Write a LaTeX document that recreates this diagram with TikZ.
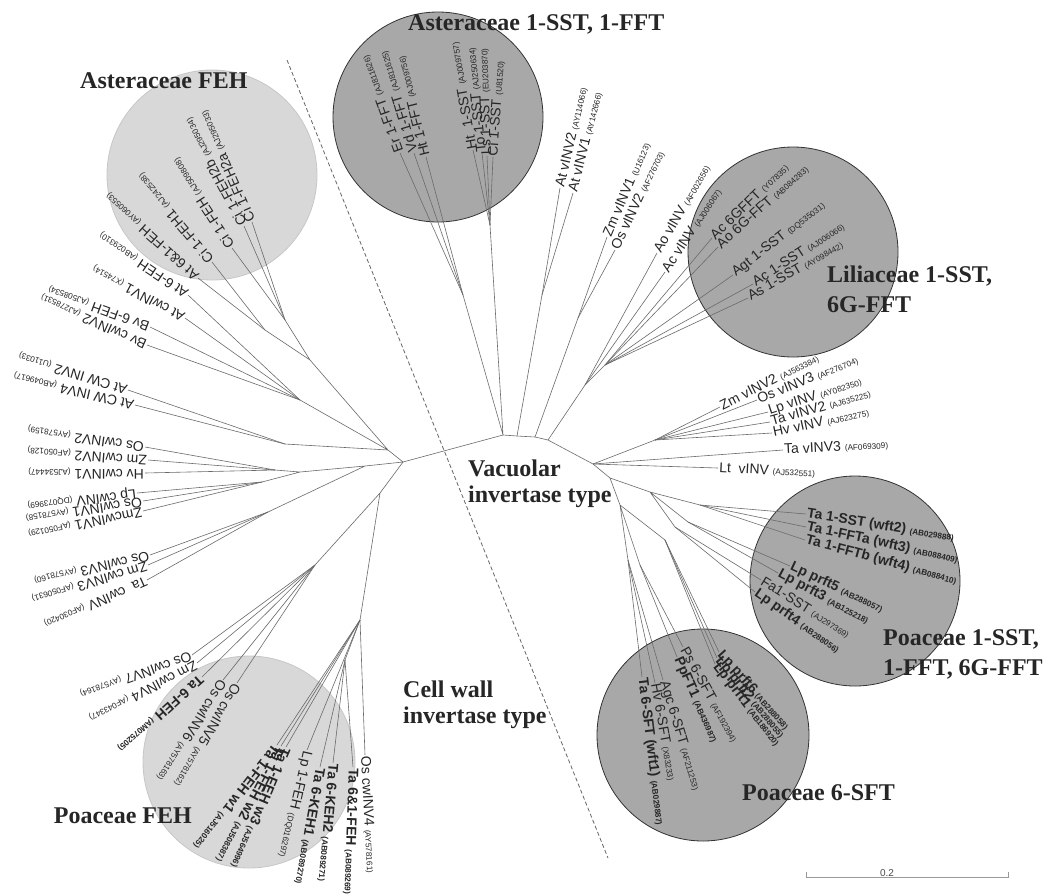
\documentclass[tikz,border=0pt]{standalone}
\usepackage{fontspec}
\setmainfont{Liberation Serif}
\setsansfont{Liberation Sans}
\usetikzlibrary{positioning}
\definecolor{cladedark}{HTML}{A8A8A8}
\definecolor{cladelight}{HTML}{D8D8D8}
\definecolor{branchgray}{HTML}{6A6A6A}
\newcommand{\acc}[1]{{\fontsize{8.2}{9}\selectfont #1}}
\tikzset{
  branch/.style={draw=branchgray, line width=0.6pt},
  leaf/.style={anchor=west, inner sep=1pt, text=black!85, font=\sffamily\fontsize{14}{14}\selectfont},
  darkclade/.style={fill=cladedark, draw=black!80, line width=0.8pt},
  lightclade/.style={fill=cladelight, draw=black!22, line width=0.8pt},
  cladename/.style={inner sep=0pt, text=black!85, font=\bfseries\fontsize{24}{30}\selectfont, align=left},
  typename/.style={cladename, font=\bfseries\fontsize{24}{26}\selectfont},
  divider/.style={draw=black!60, dash pattern=on 4pt off 2.5pt, line width=0.8pt},
  scalebar/.style={draw=black!40, line width=0.6pt}
}

\begin{document}
\begin{tikzpicture}[x=1pt, y=-1pt]
\useasboundingbox (0,0) rectangle (1056,895);
\fill[white] (0,0) rectangle (1056,895);

% clade circles
\draw[darkclade] (438,117) circle[radius=105];
\draw[darkclade] (793,252) circle[radius=105];
\draw[darkclade] (855,581) circle[radius=105];
\draw[darkclade] (703,735) circle[radius=106];
\draw[lightclade] (212,175) circle[radius=105];
\draw[lightclade] (249,762) circle[radius=106];

% divider between the two invertase types
\coordinate (divtop) at (287,60);
\coordinate (divbot) at (608,858);
\draw[divider] (divtop) -- (divbot);

% inner nodes, vacuolar side
\coordinate (cw) at (403,462);
\coordinate (v1) at (503,435);
\coordinate (v2) at (517,436);
\coordinate (v3) at (535,437);
\coordinate (v4) at (548,440);
\coordinate (v5) at (593,464);
\coordinate (v6) at (610,478);
\coordinate (v7) at (620,505);
\coordinate (aff) at (463,295);
\coordinate (ass) at (490,225);
\coordinate (atv) at (542,295);
\coordinate (zov) at (578,318);
\coordinate (acv) at (585,385);
\coordinate (lil) at (605,365);
\coordinate (vzm) at (655,440);
\coordinate (pfo) at (650,492);
\coordinate (pta) at (700,505);
\coordinate (plp) at (688,522);
\coordinate (pfa) at (675,527);
\coordinate (s6a) at (628,560);
\coordinate (s6p) at (640,565);
\coordinate (s6l) at (665,540);

% inner nodes, cell wall side
\coordinate (ul) at (388,450);
\coordinate (lh) at (365,466);
\coordinate (bh) at (380,493);
\coordinate (fe) at (310,360);
\coordinate (fn) at (285,320);
\coordinate (fn2) at (265,330);
\coordinate (ab) at (300,400);
\coordinate (atc) at (285,444);
\coordinate (lm) at (300,472);
\coordinate (lw) at (275,470);
\coordinate (lc) at (262,482);
\coordinate (l3) at (268,512);
\coordinate (bl) at (315,565);
\coordinate (b3) at (360,620);
\coordinate (b4) at (345,660);

\draw[branch] (cw) -- (v1) -- (v2) -- (v3) -- (v4) -- (v5) -- (v6) -- (v7);
\draw[branch] (v1) -- (aff) (v1) -- (ass) (v2) -- (atv) (v3) -- (zov)
  (v4) -- (acv) -- (lil) (v5) -- (vzm) (v6) -- (pfo) -- (pta)
  (pfo) -- (plp) (pfo) -- (pfa) (v7) -- (s6a) (v7) -- (s6p) (v7) -- (s6l);
\draw[branch] (cw) -- (ul) (cw) -- (lh) (cw) -- (bh)
  (ul) -- (fe) -- (fn) (fe) -- (fn2) (ul) -- (ab) (ul) -- (atc)
  (lh) -- (lm) -- (lw) (lm) -- (lc) (lh) -- (l3)
  (bh) -- (bl) (bh) -- (b3) -- (b4);

% leaves: name/x/y/angle/text
\foreach \nm/\x/\y/\ang/\txt in {
  erf/400/153/110/{Er 1-FFT \acc{(AJ811626)}},
  vdf/414/153/107/{Vd 1-FFT \acc{(AJ811625)}},
  htf/426/157/104/{Ht 1-FFT \acc{(AJ009756)}}}{
  \node[leaf, rotate=\ang] (\nm) at (\x,\y) {\txt};
  \draw[branch] (aff) -- (\nm.west);
}
\foreach \nm/\x/\y/\ang/\txt in {
  hts/473/150/100/{Ht~~1-SST \acc{(AJ009757)}},
  tos/482/153/96/{To 1-SST \acc{(AJ250634)}},
  lss/487/156/92/{Ls 1-SST \acc{(EU203870)}},
  cis/493/157/86/{Ci 1-SST \acc{(U81520)}}}{
  \node[leaf, rotate=\ang] (\nm) at (\x,\y) {\txt};
  \draw[branch] (ass) -- (\nm.west);
}
\foreach \nm/\x/\y/\ang/\txt in {
  atv2/560/188/77/{At vINV2 \acc{(AY114066)}},
  atv1/573/193/76/{At vINV1 \acc{(AY142666)}}}{
  \node[leaf, rotate=\ang] (\nm) at (\x,\y) {\txt};
  \draw[branch] (atv) -- (\nm.west);
}
\foreach \nm/\x/\y/\ang/\txt in {
  zmv1/607/237/67/{Zm vINV1 \acc{(U16123)}},
  osv2/615/250/65/{Os vINV2 \acc{(AF276703)}}}{
  \node[leaf, rotate=\ang] (\nm) at (\x,\y) {\txt};
  \draw[branch] (zov) -- (\nm.west);
}
\foreach \nm/\x/\y/\ang/\txt in {
  aov/657/253/60/{Ao vINV \acc{(AF002656)}},
  acvi/665/272/57/{Ac vINV \acc{(AJ006067)}}}{
  \node[leaf, rotate=\ang] (\nm) at (\x,\y) {\txt};
  \draw[branch] (acv) -- (\nm.west);
}
\foreach \nm/\x/\y/\ang/\txt in {
  ac6g/712/238/44/{Ac 6GFFT \acc{(Y07835)}},
  ao6g/718/247/42/{Ao 6G-FFT \acc{(AB084283)}},
  agt1/733/275/38/{Agt 1-SST \acc{(DQ535031)}},
  ac1s/753/284/33/{Ac 1-SST \acc{(AJ006066)}},
  as1s/748/298/30/{As 1-SST \acc{(AY098442)}}}{
  \node[leaf, rotate=\ang] (\nm) at (\x,\y) {\txt};
  \draw[branch] (lil) -- (\nm.west);
}
\foreach \nm/\x/\y/\ang/\txt in {
  zmv2/720/407/27/{Zm vINV2 \acc{(AJ563384)}},
  osv3/757/400/22/{Os vINV3 \acc{(AF276704)}},
  lpv/768/412/18/{Lp vINV \acc{(AY082350)}},
  tav2/770/422/16/{Ta vINV2 \acc{(AJ635225)}},
  hvv/772/433/12/{Hv vINV \acc{(AJ623275)}}}{
  \node[leaf, rotate=\ang] (\nm) at (\x,\y) {\txt};
  \draw[branch] (vzm) -- (\nm.west);
}
\foreach \nm/\x/\y/\ang/\txt in {
  tav3/783/450/3/{Ta vINV3 \acc{(AF069309)}},
  ltv/718/468/-3/{Lt~~vINV \acc{(AJ532551)}}}{
  \node[leaf, rotate=\ang] (\nm) at (\x,\y) {\txt};
  \draw[branch] (v5) -- (\nm.west);
}
\foreach \nm/\x/\y/\ang/\txt in {
  ta1s/806/514/-9/{\bfseries Ta 1-SST (wft2) \acc{(AB029888)}},
  ta1fa/806/527/-12/{\bfseries Ta 1-FFTa (wft3) \acc{(AB088409)}},
  ta1fb/805/540/-15/{\bfseries Ta 1-FFTb (wft4) \acc{(AB088410)}}}{
  \node[leaf, rotate=\ang] (\nm) at (\x,\y) {\txt};
  \draw[branch] (pta) -- (\nm.west);
}
\foreach \nm/\x/\y/\ang/\txt in {
  lpp5/790/566/-25/{\bfseries Lp prft5 \acc{(AB288057)}},
  lpp3/778/573/-28/{\bfseries Lp prft3 \acc{(AB125218)}}}{
  \node[leaf, rotate=\ang] (\nm) at (\x,\y) {\txt};
  \draw[branch] (plp) -- (\nm.west);
}
\foreach \nm/\x/\y/\ang/\txt in {
  fa1s/761/580/-32/{Fa1-SST \acc{(AJ297369)}},
  lpp4/755/592/-35/{\bfseries Lp prft4 \acc{(AB288056)}}}{
  \node[leaf, rotate=\ang] (\nm) at (\x,\y) {\txt};
  \draw[branch] (pfa) -- (\nm.west);
}
\foreach \nm/\x/\y/\ang/\txt in {
  lpp6/719/652/-48/{\bfseries Lp prft6 \acc{(AB288058)}},
  lpp2/717/658/-50/{\bfseries Lp prft2 \acc{(AB288055)}},
  lpp1/715/664/-52/{\bfseries Lp prft1 \acc{(AB186920)}}}{
  \node[leaf, rotate=\ang] (\nm) at (\x,\y) {\txt};
  \draw[branch] (s6l) -- (\nm.west);
}
\foreach \nm/\x/\y/\ang/\txt in {
  ps6/683/647/-61/{Ps 6-SFT \acc{(AF192394)}},
  ppft/677/657/-66/{\bfseries PpFT1 \acc{(AB436987)}}}{
  \node[leaf, rotate=\ang] (\nm) at (\x,\y) {\txt};
  \draw[branch] (s6p) -- (\nm.west);
}
\foreach \nm/\x/\y/\ang/\txt in {
  agc6/663/680/-73/{Agc 6-SFT \acc{(AF211253)}},
  hv6/655/683/-80/{Hv 6-SFT \acc{(X83233)}},
  ta6s/642/677/-83/{\bfseries Ta 6-SFT (wft1) \acc{(AB029887)}}}{
  \node[leaf, rotate=\ang] (\nm) at (\x,\y) {\txt};
  \draw[branch] (s6a) -- (\nm.west);
}

% cell wall side leaves
\foreach \nm/\x/\y/\ang/\txt in {
  ci2a/252/222/114/{Ci 1-FEH2a \acc{(AJ295033)}},
  ci2b/244/226/118/{Ci 1-FEH2b \acc{(AJ295034)}},
  cife/232/248/123/{Ci 1-FEH \acc{(AJ509808)}}}{
  \node[leaf, rotate=\ang] (\nm) at (\x,\y) {\txt};
  \draw[branch] (fn) -- (\nm.west);
}
\foreach \nm/\x/\y/\ang/\txt in {
  ci11/212/262/130/{Ci 1-FEH1 \acc{(AJ242538)}},
  at61/198/278/138/{At 6\&1-FEH \acc{(AY060553)}}}{
  \node[leaf, rotate=\ang] (\nm) at (\x,\y) {\txt};
  \draw[branch] (fn2) -- (\nm.west);
}
\foreach \nm/\x/\y/\ang/\txt in {
  at6f/188/295/146/{At 6-FEH \acc{(AB029310)}},
  atcw1/185/318/152/{At cwINV1 \acc{(X74514)}},
  bv6f/150/327/160/{Bv 6-FEH \acc{(AJ508534)}},
  bvcw2/147/345/156/{Bv cwINV2 \acc{(AJ278531)}}}{
  \node[leaf, rotate=\ang] (\nm) at (\x,\y) {\txt};
  \draw[branch] (ab) -- (\nm.west);
}
\foreach \nm/\x/\y/\ang/\txt in {
  atcw2/128/390/163/{At CW INV2 \acc{(U11033)}},
  atcw4/135/405/167/{At CW INV4 \acc{(AB049617)}}}{
  \node[leaf, rotate=\ang] (\nm) at (\x,\y) {\txt};
  \draw[branch] (atc) -- (\nm.west);
}
\foreach \nm/\x/\y/\ang/\txt in {
  oscw2/145/447/172/{Os cwINV2 \acc{(AY578159)}},
  zmcw2/148/460/176/{Zm cwINV2 \acc{(AF050128)}},
  hvcw1/145/473/180/{Hv cwINV1 \acc{(AJ534447)}}}{
  \node[leaf, rotate=\ang] (\nm) at (\x,\y) {\txt};
  \draw[branch] (lw) -- (\nm.west);
}
\foreach \nm/\x/\y/\ang/\txt in {
  lpcw/137/493/187/{Lp cwINV \acc{(DQ073969)}},
  oscw1/143/501/189/{Os cwINV1 \acc{(AY578158)}},
  zmcw1/143/511/192/{ZmcwINV1 \acc{(AF050129)}}}{
  \node[leaf, rotate=\ang] (\nm) at (\x,\y) {\txt};
  \draw[branch] (lc) -- (\nm.west);
}
\foreach \nm/\x/\y/\ang/\txt in {
  oscw3/150/555/193/{Os cwINV3 \acc{(AY578160)}},
  zmcw3/148/565/197/{Zm cwINV3 \acc{(AF050631)}},
  tacw/147/580/204/{Ta~~cwINV \acc{(AF030420)}}}{
  \node[leaf, rotate=\ang] (\nm) at (\x,\y) {\txt};
  \draw[branch] (l3) -- (\nm.west);
}
\foreach \nm/\x/\y/\ang/\txt in {
  oscw7/192/655/200/{Os cwINV7 \acc{(AY578164)}},
  zmcw4/197/663/208/{Zm cwINV4 \acc{(AF043347)}},
  ta6f/202/677/222/{\bfseries Ta 6-FEH \acc{(AM075205)}},
  oscw6/223/680/238/{Os cwINV6 \acc{(AY578163)}},
  oscw5/237/683/240/{Os cwINV5 \acc{(AY578162)}}}{
  \node[leaf, rotate=\ang] (\nm) at (\x,\y) {\txt};
  \draw[branch] (bl) -- (\nm.west);
}
\foreach \nm/\x/\y/\ang/\txt in {
  oscw4/365/755/273/{Os cwINV4 \acc{(AY578161)}},
  taw1/277/745/232/{\bfseries Ta 1-FEH w1 \acc{(AJ516025)}},
  taw2/281/746/242/{\bfseries Ta 1-FEH w2 \acc{(AJ508387)}},
  taw3/286/747/247/{\bfseries Ta 1-FEH w3 \acc{(AJ564996)}},
  lp1f/307/750/257/{Lp 1-FEH \acc{(DQ016297)}}}{
  \node[leaf, rotate=\ang] (\nm) at (\x,\y) {\txt};
  \draw[branch] (b3) -- (\nm.west);
}
\foreach \nm/\x/\y/\ang/\txt in {
  keh2/333/763/265/{\bfseries Ta 6-KEH2 \acc{(AB089271)}},
  keh1/320/767/260/{\bfseries Ta 6-KEH1 \acc{(AB089270)}},
  ta61/353/767/268/{\bfseries Ta 6\&1-FEH \acc{(AB089269)}}}{
  \node[leaf, rotate=\ang] (\nm) at (\x,\y) {\txt};
  \draw[branch] (b4) -- (\nm.west);
}

% clade and type names
\node[cladename, anchor=base west] (astsst) at (408,30) {Asteraceae 1-SST, 1-FFT};
\node[cladename, anchor=base west] (astfeh) at (80,88) {Asteraceae FEH};
\node[cladename, anchor=north west] (lilsst) at (827,266) {Liliaceae 1-SST,\\6G-FFT};
\node[cladename, anchor=north west] (poasst) at (883,629) {Poaceae 1-SST,\\1-FFT, 6G-FFT};
\node[cladename, anchor=base west] (poasft) at (742,800) {Poaceae 6-SFT};
\node[cladename, anchor=base east] (poafeh) at (192,823) {Poaceae FEH};
\node[typename, anchor=north west] (vactype) at (468,460) {Vacuolar\\invertase type};
\node[typename, anchor=north west] (cwtype) at (403,681) {Cell wall\\invertase type};

% scale bar
\coordinate (sbl) at (806,877);
\coordinate (sbr) at (1008,877);
\draw[scalebar] ([yshift=5pt]sbl) -- (sbl) -- (sbr) -- ([yshift=5pt]sbr);
\node[font=\sffamily\fontsize{10}{10}\selectfont, text=black!70, anchor=base, inner sep=0pt] (sblabel) at (887,876) {0.2};
\end{tikzpicture}
\end{document}
